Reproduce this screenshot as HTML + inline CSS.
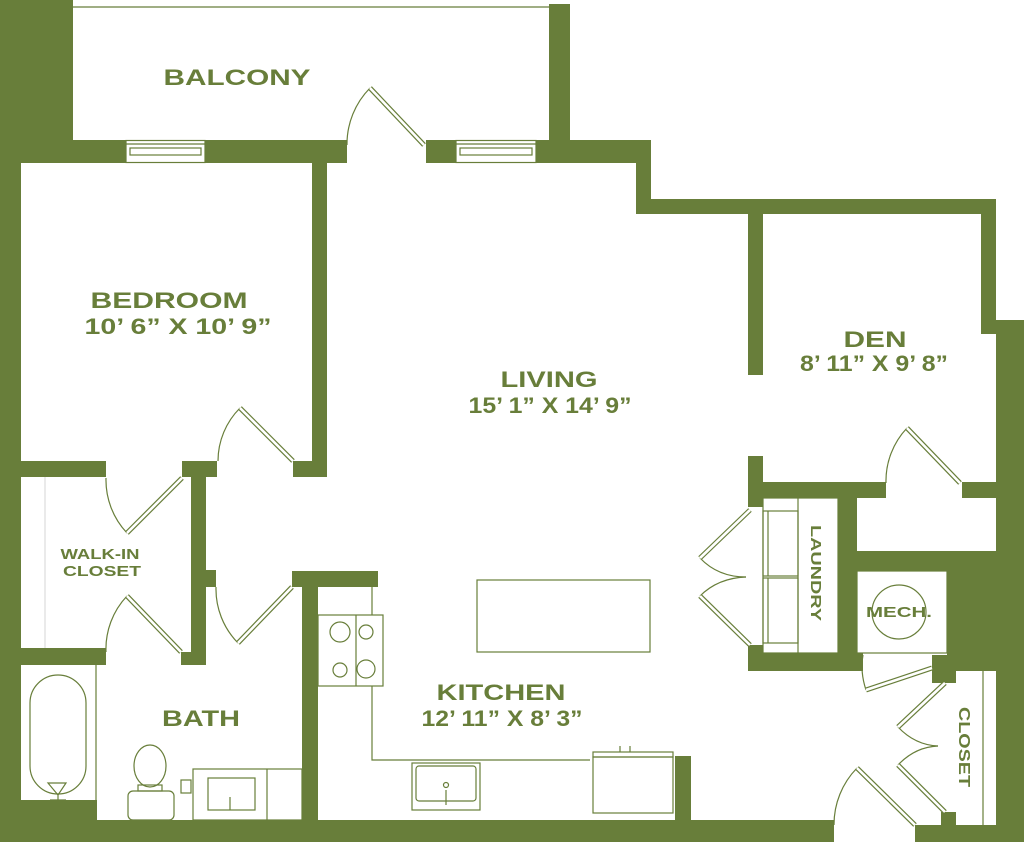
<!DOCTYPE html>
<html><head><meta charset="utf-8"><style>
html,body{margin:0;padding:0;background:#fff;}
svg{display:block}
text{font-family:"Liberation Sans",sans-serif;font-weight:bold;fill:#687e3a;text-anchor:middle}
</style></head><body>
<svg width="1024" height="842" viewBox="0 0 1024 842" xmlns="http://www.w3.org/2000/svg">
<g fill="#687e3a">
<rect x="0" y="0" width="73" height="163"/>
<rect x="0" y="0" width="21" height="842"/>
<rect x="549" y="4" width="21" height="159"/>
<rect x="73" y="140" width="53" height="23"/>
<rect x="205" y="140" width="142" height="23"/>
<rect x="426" y="140" width="30" height="23"/>
<rect x="536" y="140" width="114" height="23"/>
<rect x="636" y="140" width="15" height="74"/>
<rect x="636" y="199" width="360" height="15"/>
<rect x="981" y="199" width="15" height="135"/>
<rect x="996" y="320" width="28" height="522"/>
<rect x="312" y="163" width="15" height="314"/>
<rect x="293" y="461" width="34" height="16"/>
<rect x="0" y="461" width="106" height="16"/>
<rect x="182" y="461" width="35" height="16"/>
<rect x="191" y="461" width="15" height="204"/>
<rect x="181" y="652" width="25" height="13"/>
<rect x="206" y="570" width="10" height="17"/>
<rect x="0" y="648" width="106" height="17"/>
<rect x="302" y="571" width="16" height="271"/>
<rect x="292" y="571" width="86" height="16"/>
<rect x="0" y="800" width="97" height="42"/>
<rect x="0" y="820" width="834" height="22"/>
<rect x="675" y="756" width="16" height="70"/>
<rect x="915" y="825" width="109" height="17"/>
<rect x="941" y="812" width="15" height="14"/>
<rect x="748" y="214" width="15" height="161"/>
<rect x="748" y="456" width="15" height="51"/>
<rect x="748" y="482" width="138" height="16"/>
<rect x="962" y="482" width="38" height="16"/>
<rect x="748" y="645" width="15" height="26"/>
<rect x="748" y="653" width="115" height="18"/>
<rect x="838" y="498" width="19" height="173"/>
<rect x="838" y="551" width="162" height="20"/>
<rect x="947" y="551" width="77" height="120"/>
<rect x="932" y="655" width="24" height="28"/>
</g>
<g fill="none" stroke="#687e3a" stroke-width="1.2">
<line x1="73" y1="7" x2="549" y2="7"/>
<rect x="126" y="140.5" width="79" height="22"/>
<line x1="126" y1="144" x2="205" y2="144"/>
<rect x="130" y="148" width="71" height="7"/>
<rect x="456" y="140.5" width="80" height="22"/>
<line x1="456" y1="144" x2="536" y2="144"/>
<rect x="460" y="148" width="72" height="7"/>
<line x1="45" y1="477" x2="45" y2="648" stroke="#ddd"/>
<path d="M370 88 A80 80 0 0 0 347 145"/>
<path d="M240 408 A75 75 0 0 0 218 461"/>
<path d="M127 533 A77 77 0 0 1 106 478"/>
<path d="M127 596 A77 77 0 0 0 106 652"/>
<path d="M238 643 A77 77 0 0 1 216 587"/>
<path d="M907 428 A77 77 0 0 0 886 483"/>
<path d="M700 558 Q718 577 746 577"/>
<path d="M700 596 Q718 578 746 577"/>
<path d="M866 690 Q860 672 863 655"/>
<path d="M898 727 Q915 745 938 746"/>
<path d="M898 765 Q915 747 938 746"/>
<path d="M857 768 A81 81 0 0 0 834 825"/>
<rect x="763" y="498" width="75" height="155"/>
<line x1="798" y1="498" x2="798" y2="653"/>
<rect x="763" y="511" width="35" height="65"/>
<line x1="768" y1="511" x2="768" y2="576"/>
<rect x="763" y="578" width="35" height="65"/>
<line x1="768" y1="578" x2="768" y2="643"/>
<rect x="857" y="571" width="90" height="82"/>
<circle cx="899" cy="612" r="27"/>
<line x1="983" y1="671" x2="983" y2="825"/>
<line x1="96" y1="665" x2="96" y2="820"/>
<rect x="30" y="675" width="56" height="119" rx="28"/>
<path d="M48 783 L66 783 L58 795 Z M58 795 L58 800 M50 800 L66 800"/>
<ellipse cx="150" cy="766" rx="16" ry="21"/>
<rect x="138" y="785" width="24" height="6"/>
<rect x="128" y="791" width="46" height="29" rx="5"/>
<rect x="193" y="769" width="109" height="51"/>
<line x1="267" y1="769" x2="267" y2="820"/>
<rect x="208" y="778" width="47" height="32"/>
<rect x="181" y="780" width="10" height="13"/>
<line x1="230" y1="797" x2="230" y2="810"/>
<line x1="372" y1="587" x2="372" y2="615"/>
<path d="M372 686 L372 760 L590 760"/>
<rect x="318" y="615" width="65" height="71"/>
<line x1="356" y1="615" x2="356" y2="686"/>
<ellipse cx="340" cy="632" rx="10" ry="10"/>
<ellipse cx="366" cy="632" rx="7" ry="7"/>
<ellipse cx="340" cy="670" rx="7" ry="7"/>
<ellipse cx="366" cy="669" rx="9" ry="9"/>
<rect x="477" y="580" width="173" height="72"/>
<rect x="412" y="763" width="68" height="47"/>
<rect x="416" y="766" width="60" height="35" rx="3"/>
<line x1="446" y1="790" x2="446" y2="805"/>
<circle cx="446" cy="785" r="2.5"/>
<rect x="593" y="757" width="80" height="56"/>
<rect x="593" y="752" width="80" height="5"/>
<line x1="620" y1="746" x2="620" y2="752"/><line x1="630" y1="746" x2="630" y2="752"/>
</g>
<g stroke-linecap="butt">
<g stroke="#687e3a" stroke-width="5">
<line x1="370" y1="88" x2="424" y2="145"/>
<line x1="240" y1="408" x2="293" y2="461"/>
<line x1="182" y1="478" x2="127" y2="533"/>
<line x1="127" y1="596" x2="181" y2="652"/>
<line x1="292" y1="587" x2="238" y2="643"/>
<line x1="907" y1="428" x2="960" y2="483"/>
<line x1="750" y1="510" x2="700" y2="558"/>
<line x1="700" y1="596" x2="750" y2="645"/>
<line x1="932" y1="668" x2="866" y2="690"/>
<line x1="945" y1="683" x2="898" y2="727"/>
<line x1="898" y1="765" x2="945" y2="812"/>
<line x1="857" y1="768" x2="915" y2="825"/>
</g>
<g stroke="#fff" stroke-width="2.6">
<line x1="370" y1="88" x2="424" y2="145"/>
<line x1="240" y1="408" x2="293" y2="461"/>
<line x1="182" y1="478" x2="127" y2="533"/>
<line x1="127" y1="596" x2="181" y2="652"/>
<line x1="292" y1="587" x2="238" y2="643"/>
<line x1="907" y1="428" x2="960" y2="483"/>
<line x1="750" y1="510" x2="700" y2="558"/>
<line x1="700" y1="596" x2="750" y2="645"/>
<line x1="932" y1="668" x2="866" y2="690"/>
<line x1="945" y1="683" x2="898" y2="727"/>
<line x1="898" y1="765" x2="945" y2="812"/>
<line x1="857" y1="768" x2="915" y2="825"/>
</g>
</g>
<g lengthAdjust="spacingAndGlyphs">
<text x="237" y="85" font-size="22" textLength="147" lengthAdjust="spacingAndGlyphs">BALCONY</text>
<text x="169" y="308" font-size="22" textLength="157" lengthAdjust="spacingAndGlyphs">BEDROOM</text>
<text x="178" y="334" font-size="22" textLength="187" lengthAdjust="spacingAndGlyphs">10’ 6” X 10’ 9”</text>
<text x="549" y="387" font-size="22" textLength="97" lengthAdjust="spacingAndGlyphs">LIVING</text>
<text x="550" y="413" font-size="22" textLength="163" lengthAdjust="spacingAndGlyphs">15’ 1” X 14’ 9”</text>
<text x="875" y="347" font-size="22" textLength="63" lengthAdjust="spacingAndGlyphs">DEN</text>
<text x="874" y="371" font-size="22" textLength="148" lengthAdjust="spacingAndGlyphs">8’ 11” X 9’ 8”</text>
<text x="501" y="700" font-size="22" textLength="129" lengthAdjust="spacingAndGlyphs">KITCHEN</text>
<text x="502" y="726" font-size="22" textLength="161" lengthAdjust="spacingAndGlyphs">12’ 11” X 8’ 3”</text>
<text x="201" y="726" font-size="22" textLength="78" lengthAdjust="spacingAndGlyphs">BATH</text>
<text x="100" y="559" font-size="15" textLength="79" lengthAdjust="spacingAndGlyphs">WALK-IN</text>
<text x="102" y="576" font-size="15" textLength="78" lengthAdjust="spacingAndGlyphs">CLOSET</text>
<text x="899" y="617" font-size="15" textLength="66" lengthAdjust="spacingAndGlyphs">MECH.</text>
<text transform="translate(811,573) rotate(90)" font-size="15" textLength="96" lengthAdjust="spacingAndGlyphs">LAUNDRY</text>
<text transform="translate(959,747) rotate(90)" font-size="16" textLength="80" lengthAdjust="spacingAndGlyphs">CLOSET</text>
</g>
</svg>
</body></html>
